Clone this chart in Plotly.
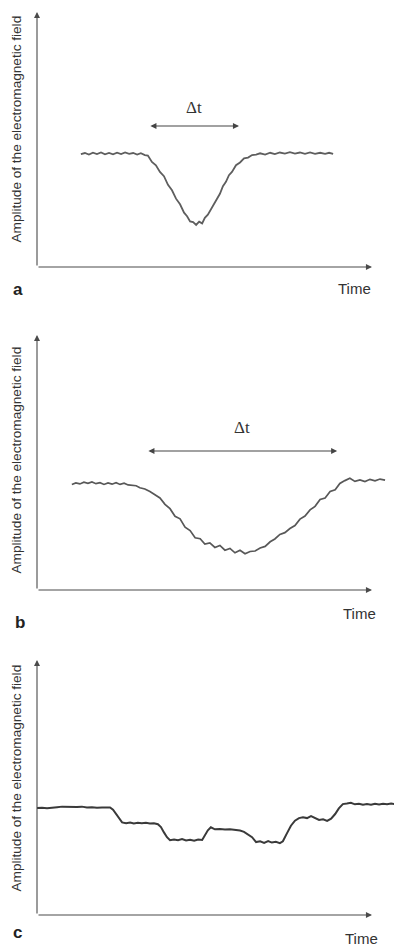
import plotly.graph_objects as go

# ---------------------------------------------------------------- data
# Panel a: short, deep dip in the field amplitude
time_a = [13.1, 14.3, 15.5, 16.7, 17.9, 19.1, 20.3, 21.5, 22.7, 23.9, 25.1, 26.3,
          27.5, 28.7, 29.9, 31.0, 32.2, 33.1, 34.3, 35.5, 36.7, 37.9, 39.1, 40.3,
          41.5, 42.7, 43.9, 44.8, 45.7, 46.6, 47.5, 48.4, 49.3, 50.1, 51.0, 51.9,
          52.8, 53.7, 54.6, 55.5, 56.4, 57.3, 58.2, 59.4, 60.6, 61.8, 63.0, 64.2,
          65.4, 66.6, 68.1, 69.6, 71.0, 72.5, 74.0, 75.5, 77.0, 78.5, 80.0, 81.5,
          83.0, 84.5, 86.0, 87.2, 88.4]
amp_a = [44.3, 44.7, 44.1, 44.8, 44.3, 44.9, 44.2, 44.7, 44.2, 44.8, 44.3, 44.9,
         44.4, 44.7, 44.1, 44.6, 43.9, 43.7, 41.2, 39.9, 37.3, 35.6, 32.2, 30.1,
         26.8, 24.6, 21.3, 19.9, 17.9, 17.6, 16.5, 17.8, 17.1, 19.3, 20.5, 22.7,
         24.4, 27.0, 28.7, 31.7, 33.4, 36.0, 37.3, 39.9, 41.0, 42.6, 42.9, 43.9,
         44.1, 44.6, 44.1, 44.8, 44.3, 44.9, 44.5, 45.0, 44.5, 44.9, 44.4, 44.9,
         44.4, 44.8, 44.4, 44.8, 44.4]

# Panel b: long, shallow dip
time_b = [10.4, 11.6, 12.8, 14.0, 15.2, 16.4, 17.6, 18.8, 20.0, 21.2, 22.4, 23.6,
          24.8, 26.0, 27.2, 28.4, 29.6, 30.7, 32.2, 33.7, 35.2, 36.7, 38.2, 39.7,
          41.2, 42.7, 44.2, 45.7, 47.2, 48.7, 50.1, 51.6, 53.1, 54.6, 56.1, 57.6,
          59.1, 60.6, 62.1, 63.6, 65.1, 66.6, 68.1, 69.6, 71.0, 72.5, 74.0, 75.5,
          77.0, 78.5, 80.0, 81.5, 83.0, 84.5, 86.0, 87.5, 89.0, 90.4, 91.9, 93.4,
          94.9, 96.4, 97.9, 99.4, 100.9, 102.4, 103.9]
amp_b = [41.4, 42.0, 41.6, 42.3, 41.8, 42.4, 41.7, 42.1, 41.4, 42.0, 41.5, 42.1,
         41.4, 41.9, 41.2, 41.0, 40.9, 40.1, 39.6, 38.6, 37.2, 36.1, 33.6, 31.9,
         28.9, 27.9, 24.6, 23.3, 20.5, 20.1, 18.0, 18.5, 16.7, 17.5, 15.6, 16.3,
         14.6, 15.6, 14.2, 15.1, 15.3, 16.5, 17.1, 18.9, 20.0, 21.8, 22.5, 24.1,
         25.3, 27.8, 29.0, 31.4, 32.8, 35.5, 36.1, 38.6, 39.3, 41.8, 42.9, 43.8,
         42.6, 43.2, 42.5, 43.4, 42.8, 43.5, 43.1]

# Panel c: stepwise changes in amplitude
time_c = [0.0, 1.5, 3.0, 4.5, 6.0, 7.5, 9.0, 10.4, 11.9, 13.4, 14.9, 16.4, 17.9,
          19.4, 20.6, 21.8, 22.7, 23.6, 24.5, 25.4, 26.6, 27.8, 28.9, 30.1, 31.3,
          32.5, 33.7, 34.9, 36.1, 37.0, 37.9, 38.8, 39.7, 40.9, 42.1, 43.3, 44.5,
          45.7, 46.9, 48.1, 49.3, 50.1, 51.0, 51.9, 53.1, 54.6, 56.1, 57.6, 59.1,
          60.6, 61.8, 63.0, 64.2, 65.4, 66.6, 67.8, 69.0, 70.1, 71.3, 72.5, 73.4,
          74.6, 75.8, 77.0, 78.2, 79.4, 80.6, 81.8, 83.0, 84.2, 85.4, 86.6, 87.8,
          89.0, 90.1, 91.3, 92.5, 93.7, 94.9, 96.1, 97.3, 98.5, 99.7, 100.9, 102.1,
          103.3, 104.5, 105.7, 106.6]
amp_c = [42.0, 42.1, 41.9, 42.2, 42.3, 42.5, 42.4, 42.6, 42.4, 42.5, 42.2, 42.3,
         42.1, 42.2, 42.3, 42.2, 41.3, 39.6, 37.6, 36.3, 36.0, 36.3, 35.9, 36.2,
         36.0, 36.2, 35.9, 36.0, 35.6, 34.5, 32.4, 30.5, 29.3, 29.6, 29.3, 29.8,
         29.2, 29.5, 29.1, 29.6, 29.4, 31.0, 33.2, 34.4, 33.6, 33.7, 33.5, 33.6,
         33.4, 33.1, 32.6, 31.7, 30.5, 28.6, 28.9, 28.3, 29.0, 28.4, 28.7, 28.2,
         28.9, 32.0, 35.0, 37.0, 38.0, 38.3, 38.0, 38.8, 38.0, 37.3, 37.5, 36.9,
         37.8, 39.6, 41.8, 43.5, 43.7, 44.0, 43.4, 43.6, 43.2, 43.5, 43.2, 43.6,
         43.3, 43.6, 43.4, 43.7, 43.5]

# Extent of the Δt interval marked in panels a and b
dt_a = [33.4, 60.3]
dt_b = [32.8, 89.6]

panel_letters = ["a", "b", "c"]
y_title = "Amplitude of the electromagnetic field"
x_title = "Time"

# ---------------------------------------------------------------- layout
W, H = 394, 949
PX_X = 3.35          # pixels per time unit
PX_Y = 2.55          # pixels per amplitude unit
X0_PX = 37           # left edge of the time axis
XR = [-3, (W - X0_PX) / PX_X]
YR = [-5, 104]
baselines = [267, 590, 915]   # vertical pixel position of each time axis

# pixel positions of the text around each panel
ytitle_cy = [129, 460, 778]
time_pos = [(373, 288), (378, 613), (380, 938)]
letter_pos = [(18, 289), (20, 622), (17, 932)]


def px(x):
    return x / W


def py(y):
    return 1 - y / H


fig = go.Figure()

series = [(time_a, amp_a, "#5e5e5e", 1.8),
          (time_b, amp_b, "#585858", 1.7),
          (time_c, amp_c, "#3a3a3a", 2.0)]

axis_col = "#4a4a4a"
font_sans = "Liberation Sans, Arial, sans-serif"
font_serif = "'Liberation Serif', 'Times New Roman', 'DejaVu Serif', serif"

for i, (t, a, col, lw) in enumerate(series):
    n = "" if i == 0 else str(i + 1)
    xa, ya = "x" + n, "y" + n
    base = baselines[i]
    x_lo = (X0_PX + XR[0] * PX_X) / W
    y_lo = 1 - (base - YR[0] * PX_Y) / H
    y_hi = 1 - (base - YR[1] * PX_Y) / H
    fig.add_trace(go.Scatter(x=t, y=a, mode="lines", xaxis=xa, yaxis=ya,
                             line=dict(color=col, width=lw), showlegend=False,
                             hoverinfo="skip"))
    fig.update_layout(**{
        "xaxis" + n: dict(domain=[x_lo, 1], range=XR, visible=False,
                          anchor=ya, fixedrange=True),
        "yaxis" + n: dict(domain=[y_lo, y_hi], range=YR, visible=False,
                          anchor=xa, fixedrange=True),
    })

    # axis arrows
    for tip, tail in [((100, 0), (0, 0)), ((0, 100), (0, 0))]:
        fig.add_annotation(x=tip[0], y=tip[1], ax=tail[0], ay=tail[1],
                           xref=xa, yref=ya, axref=xa, ayref=ya,
                           showarrow=True, arrowhead=2, arrowsize=1.1,
                           arrowwidth=1.1, arrowcolor=axis_col, text="")

    # axis titles and panel letter
    fig.add_annotation(x=px(15.5), y=py(ytitle_cy[i]), xref="paper", yref="paper",
                       text=y_title, textangle=-90, showarrow=False,
                       xanchor="center", yanchor="middle",
                       font=dict(family=font_sans, size=13.6, color="#333333"))
    fig.add_annotation(x=px(time_pos[i][0]), y=py(time_pos[i][1]),
                       xref="paper", yref="paper", text=x_title,
                       xanchor="right", yanchor="middle", showarrow=False,
                       font=dict(family=font_sans, size=15, color="#333333"))
    fig.add_annotation(x=px(letter_pos[i][0]), y=py(letter_pos[i][1]),
                       xref="paper", yref="paper",
                       text="<b>" + panel_letters[i] + "</b>", showarrow=False,
                       xanchor="center", yanchor="middle",
                       font=dict(family=font_sans, size=17, color="#222222"))

# Δt intervals
for i, (span, yarr, ylab) in enumerate([(dt_a, 55.3, 62.4), (dt_b, 54.5, 63.9)]):
    n = "" if i == 0 else str(i + 1)
    xa, ya = "x" + n, "y" + n
    fig.add_annotation(x=span[1], y=yarr, ax=span[0], ay=yarr,
                       xref=xa, yref=ya, axref=xa, ayref=ya,
                       showarrow=True, arrowhead=2, startarrowhead=2,
                       arrowside="end+start", arrowsize=1.1, startarrowsize=1.1,
                       arrowwidth=1.1, arrowcolor="#444444", text="")
    fig.add_annotation(x=(span[0] + span[1]) / 2, y=ylab, xref=xa, yref=ya,
                       text="Δt", showarrow=False,
                       font=dict(family=font_serif, size=17, color="#333333"))

fig.update_layout(width=W, height=H, margin=dict(l=0, r=0, t=0, b=0),
                  paper_bgcolor="white", plot_bgcolor="white")

fig.write_html("out.html", config={"displayModeBar": False})
